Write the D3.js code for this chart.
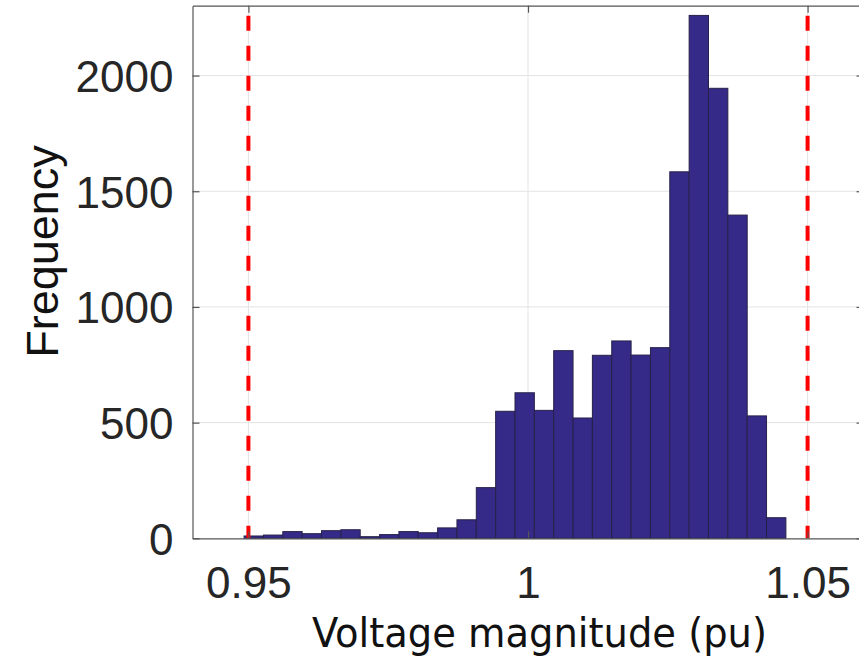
<!DOCTYPE html>
<html><head><meta charset="utf-8">
<script src="https://cdn.jsdelivr.net/npm/d3@7/dist/d3.min.js"></script>
<style>body{margin:0;background:#fff;} svg{display:block;}</style>
</head><body><div id="chart"></div>
<script>
const binStart = 0.94923;
const binEnd = 1.04612;
const counts = [10, 14, 29, 20, 33, 37, 7, 16, 29, 24, 45, 80, 219, 549, 629, 553, 811, 520, 791, 853, 792, 824, 1584, 2260, 1945, 1397, 529, 89];
const xTicks = [0.95, 1, 1.05];
const xTickLabels = ["0.95", "1", "1.05"];
const yTicks = [0, 500, 1000, 1500, 2000];
const yTickLabels = ["0", "500", "1000", "1500", "2000"];
const limitLines = [0.95, 1.05];

(function () {
const W = 859, H = 659;
const pL = 192.5, pR = 863.5, pT = 5.7, pB = 538.3;
const svg = d3.select("#chart").append("svg").attr("width", W).attr("height", H);
const x = d3.scaleLinear().domain([0.94, 1.06]).range([pL, pR]);
const y = d3.scaleLinear().domain([0, 2302]).range([pB, pT]);
const bw = (binEnd - binStart) / counts.length;
const bins = counts.map((c, i) => ({x0: binStart + i * bw, x1: binStart + (i + 1) * bw, c}));

// grid
svg.append("g").selectAll("line").data(xTicks).join("line")
  .attr("x1", d => x(d)).attr("x2", d => x(d)).attr("y1", pT).attr("y2", pB)
  .attr("stroke", "#e3e3e3").attr("stroke-width", 1);
svg.append("g").selectAll("line").data(yTicks.slice(1)).join("line")
  .attr("x1", pL).attr("x2", pR).attr("y1", d => y(d)).attr("y2", d => y(d))
  .attr("stroke", "#e3e3e3").attr("stroke-width", 1);

// bars
svg.append("g").selectAll("rect").data(bins).join("rect")
  .attr("x", d => x(d.x0)).attr("width", d => x(d.x1) - x(d.x0))
  .attr("y", d => y(d.c)).attr("height", d => y(0) - y(d.c))
  .attr("fill", "#352a87").attr("stroke", "#26214a").attr("stroke-width", 1);

// limit lines
svg.append("g").selectAll("line").data(limitLines).join("line")
  .attr("x1", d => x(d)).attr("x2", d => x(d)).attr("y1", pT).attr("y2", pB)
  .attr("stroke", "#ff0000").attr("stroke-width", 4)
  .attr("stroke-dasharray", "15,15").attr("stroke-dashoffset", 20);

// axes
const axCol = "#555555";
const gx = svg.append("g").attr("transform", `translate(0,${pB})`)
  .call(d3.axisBottom(x).tickValues(xTicks).tickFormat((d, i) => xTickLabels[i]).tickSizeInner(-7).tickSizeOuter(0).tickPadding(28));
const gxt = svg.append("g").attr("transform", `translate(0,${pT})`)
  .call(d3.axisTop(x).tickValues(xTicks).tickFormat("").tickSizeInner(-7).tickSizeOuter(0));
const gy = svg.append("g").attr("transform", `translate(${pL},0)`)
  .call(d3.axisLeft(y).tickValues(yTicks).tickFormat((d, i) => yTickLabels[i]).tickSizeInner(-7).tickSizeOuter(0).tickPadding(19));
const gyr = svg.append("g").attr("transform", `translate(${pR},0)`)
  .call(d3.axisRight(y).tickValues(yTicks).tickFormat("").tickSizeInner(-7).tickSizeOuter(0));
[gx, gxt, gy, gyr].forEach(g => {
  g.select(".domain").attr("stroke", axCol).attr("stroke-width", 1.2);
  g.selectAll(".tick line").attr("stroke", axCol).attr("stroke-width", 1.2);
  g.selectAll("text").attr("fill", "#262626").attr("font-family", "Liberation Sans, Arial, sans-serif").attr("font-size", 44);
});
gy.selectAll("text").attr("dy", "0.36em");

// labels
svg.append("text").attr("x", 539.5).attr("y", 647).attr("text-anchor", "middle")
  .attr("font-family", "DejaVu Sans").attr("font-stretch", "condensed").attr("font-size", 40)
  .attr("textLength", 455).attr("lengthAdjust", "spacingAndGlyphs")
  .attr("fill", "#111").text("Voltage magnitude (pu)");
svg.append("text").attr("transform", "translate(58,251.5) rotate(-90)").attr("text-anchor", "middle")
  .attr("font-family", "Liberation Sans, Arial, sans-serif").attr("font-size", 45)
  .attr("fill", "#111").text("Frequency");
})();
</script></body></html>
